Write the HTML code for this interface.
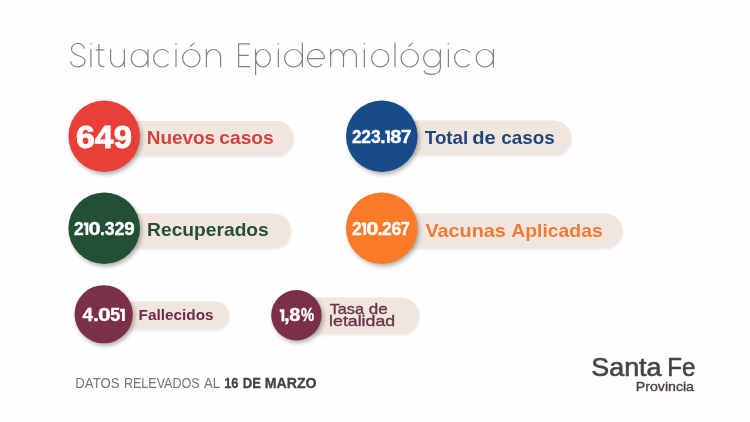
<!DOCTYPE html>
<html><head><meta charset="utf-8">
<style>
html,body{margin:0;padding:0;}
body{width:750px;height:422px;background:#fefefe;overflow:hidden;position:relative;font-family:"Liberation Sans",sans-serif;}
svg{position:absolute;left:0;top:0;filter:blur(0.35px);}
text{font-family:"Liberation Sans",sans-serif;}
</style></head><body>
<svg width="750" height="422" viewBox="0 0 750 422">
<defs><filter id="sh" x="-20%" y="-20%" width="150%" height="150%"><feGaussianBlur stdDeviation="2"/></filter>
<filter id="ps" x="-5%" y="-20%" width="110%" height="160%"><feGaussianBlur stdDeviation="1"/></filter></defs>
<rect x="104.50" y="122.60" width="189.40" height="34.60" rx="17.30" fill="#6b5a50" opacity="0.12" filter="url(#ps)"/>
<rect x="104.00" y="121.00" width="189.40" height="34.60" rx="17.30" fill="#f0e6de"/>
<rect x="382.50" y="122.20" width="189.20" height="34.40" rx="17.20" fill="#6b5a50" opacity="0.12" filter="url(#ps)"/>
<rect x="382.00" y="120.60" width="189.20" height="34.40" rx="17.20" fill="#f0e6de"/>
<rect x="104.50" y="215.10" width="187.00" height="34.50" rx="17.25" fill="#6b5a50" opacity="0.12" filter="url(#ps)"/>
<rect x="104.00" y="213.50" width="187.00" height="34.50" rx="17.25" fill="#f0e6de"/>
<rect x="382.50" y="215.10" width="240.40" height="34.50" rx="17.25" fill="#6b5a50" opacity="0.12" filter="url(#ps)"/>
<rect x="382.00" y="213.50" width="240.40" height="34.50" rx="17.25" fill="#f0e6de"/>
<rect x="103.50" y="303.20" width="126.20" height="27.40" rx="13.70" fill="#6b5a50" opacity="0.12" filter="url(#ps)"/>
<rect x="103.00" y="301.60" width="126.20" height="27.40" rx="13.70" fill="#f0e6de"/>
<rect x="296.50" y="299.00" width="123.20" height="36.60" rx="18.30" fill="#6b5a50" opacity="0.12" filter="url(#ps)"/>
<rect x="296.00" y="297.40" width="123.20" height="36.60" rx="18.30" fill="#f0e6de"/>
<circle cx="106.00" cy="138.80" r="35.80" fill="#000" opacity="0.3" filter="url(#sh)"/>
<circle cx="104.20" cy="136.30" r="35.80" fill="#e93f36"/>
<circle cx="383.60" cy="138.80" r="35.80" fill="#000" opacity="0.3" filter="url(#sh)"/>
<circle cx="381.80" cy="136.30" r="35.80" fill="#174b8a"/>
<circle cx="106.00" cy="230.80" r="35.80" fill="#000" opacity="0.3" filter="url(#sh)"/>
<circle cx="104.20" cy="228.30" r="35.80" fill="#234f35"/>
<circle cx="383.60" cy="230.80" r="35.80" fill="#000" opacity="0.3" filter="url(#sh)"/>
<circle cx="381.80" cy="228.30" r="35.80" fill="#fa7a27"/>
<circle cx="105.45" cy="316.75" r="29.10" fill="#000" opacity="0.3" filter="url(#sh)"/>
<circle cx="103.65" cy="314.25" r="29.10" fill="#7b2f4b"/>
<circle cx="298.20" cy="317.70" r="25.20" fill="#000" opacity="0.3" filter="url(#sh)"/>
<circle cx="296.40" cy="315.20" r="25.20" fill="#7b2f4b"/>
<path fill="none" stroke="#828282" stroke-width="1.20" d="M84.30 48.70 C83.80 45.30 80.97 43.50 77.80 43.50 C74.20 43.50 71.50 45.90 71.50 49.10 C71.50 52.50 74.63 54.40 78.09 55.50 C82.12 56.70 85.00 58.20 85.00 61.10 C85.00 64.60 81.83 66.90 77.80 66.90 C73.77 66.90 70.80 64.70 70.60 61.30 M90.90 49.20 V67.30 M90.65 43.60 a0.25 0.25 0 1 0 0.5 0 a0.25 0.25 0 1 0 -0.5 0 M98.90 44.00 V63.10 Q98.90 66.70 104.40 66.70 M95.80 49.80 H104.40 M110.60 49.20 V59.75 A6.90 7.25 0 0 0 124.40 59.75 M124.40 49.20 V67.30 M131.20 58.25 a8.40 8.75 0 1 0 16.80 0 a8.40 8.75 0 1 0 -16.80 0 M148.00 49.20 V67.30 M168.61 52.63 A8.50 8.75 0 1 0 168.61 63.87 M176.00 49.20 V67.30 M175.75 43.60 a0.25 0.25 0 1 0 0.5 0 a0.25 0.25 0 1 0 -0.5 0 M182.60 58.25 a8.70 8.75 0 1 0 17.40 0 a8.70 8.75 0 1 0 -17.40 0 M190.10 46.60 L194.50 42.60 M206.40 49.20 V67.30 M206.40 56.95 A7.10 7.45 0 0 1 220.60 56.95 V67.30 M250.00 43.90 H238.60 V66.70 H250.00 M238.60 55.30 H248.70 M255.60 58.25 a7.40 8.75 0 1 0 14.80 0 a7.40 8.75 0 1 0 -14.80 0 M255.60 49.20 V75.00 M278.40 49.20 V67.30 M278.15 43.60 a0.25 0.25 0 1 0 0.5 0 a0.25 0.25 0 1 0 -0.5 0 M284.60 58.25 a8.90 8.75 0 1 0 17.80 0 a8.90 8.75 0 1 0 -17.80 0 M302.40 42.40 V67.30 M307.60 58.55 H324.40 M324.40 58.55 A8.40 8.75 0 1 0 322.24 64.10 M330.60 49.20 V67.30 M330.60 56.59 A6.45 7.09 0 0 1 343.50 56.59 V67.30 M343.50 56.59 A6.45 7.09 0 0 1 356.40 56.59 V67.30 M364.40 49.20 V67.30 M364.15 43.60 a0.25 0.25 0 1 0 0.5 0 a0.25 0.25 0 1 0 -0.5 0 M371.60 58.25 a8.60 8.75 0 1 0 17.20 0 a8.60 8.75 0 1 0 -17.20 0 M395.00 42.40 V67.30 M401.00 58.25 a8.70 8.75 0 1 0 17.40 0 a8.70 8.75 0 1 0 -17.40 0 M408.50 46.60 L412.90 42.60 M423.60 58.25 a8.40 8.75 0 1 0 16.80 0 a8.40 8.75 0 1 0 -16.80 0 M440.40 49.20 V67.50 C440.40 72.00 436.62 74.40 432.00 74.40 C427.38 74.40 424.60 73.20 424.20 70.60 M448.40 49.20 V67.30 M448.15 43.60 a0.25 0.25 0 1 0 0.5 0 a0.25 0.25 0 1 0 -0.5 0 M469.61 52.63 A8.50 8.75 0 1 0 469.61 63.87 M476.20 58.25 a8.60 8.75 0 1 0 17.20 0 a8.60 8.75 0 1 0 -17.20 0 M493.40 49.20 V67.30"/>
<g fill="#fff" font-weight="bold" stroke="#fff" stroke-width="0.35">
<g font-size="32" stroke-width="0.9"><text transform="translate(76.06 147.90) scale(1.060 1)">6</text>
<text transform="translate(94.79 147.90) scale(1.044 1)">4</text>
<text transform="translate(113.66 147.90) scale(1.026 1)">9</text></g>
<g font-size="17.9"><text transform="translate(351.91 142.90) scale(0.952 1)">2</text>
<text transform="translate(361.20 142.90) scale(0.975 1)">2</text>
<text transform="translate(371.10 142.90) scale(0.978 1)">3</text>
<text transform="translate(380.20 142.90) scale(1.069 1)">.</text>
<path stroke="none" d="M385.25 130.58 h4.60 v12.32 h-2.85 v-9.36 h-1.75 z"/>
<text transform="translate(390.16 142.90) scale(1.120 1)">8</text>
<text transform="translate(400.99 142.90) scale(1.060 1)">7</text></g>
<g font-size="17.9"><text transform="translate(73.90 234.90) scale(0.975 1)">2</text>
<path stroke="none" d="M83.75 222.58 h4.60 v12.32 h-2.85 v-9.36 h-1.75 z"/>
<text transform="translate(88.44 234.90) scale(1.222 1)">0</text>
<text transform="translate(99.95 234.90) scale(0.950 1)">.</text>
<text transform="translate(104.69 234.90) scale(0.989 1)">3</text>
<text transform="translate(114.48 234.90) scale(0.998 1)">2</text>
<text transform="translate(124.15 234.90) scale(1.050 1)">9</text></g>
<g font-size="17.9"><text transform="translate(351.90 234.90) scale(0.975 1)">2</text>
<path stroke="none" d="M361.75 222.58 h4.30 v12.32 h-2.67 v-9.36 h-1.63 z"/>
<text transform="translate(366.24 234.90) scale(1.222 1)">0</text>
<text transform="translate(377.65 234.90) scale(0.950 1)">.</text>
<text transform="translate(381.90 234.90) scale(0.975 1)">2</text>
<text transform="translate(391.45 234.90) scale(0.994 1)">6</text>
<text transform="translate(400.58 234.90) scale(0.941 1)">7</text></g>
<g font-size="17.5"><text transform="translate(82.51 320.90) scale(1.077 1)">4</text>
<text transform="translate(92.91 320.90) scale(1.174 1)">.</text>
<text transform="translate(97.89 320.90) scale(1.310 1)">0</text>
<text transform="translate(110.25 320.90) scale(1.022 1)">5</text>
<path stroke="none" d="M120.25 308.86 h4.60 v12.04 h-2.85 v-9.15 h-1.75 z"/></g>
<g font-size="17.5"><path stroke="none" d="M279.75 309.36 h4.60 v12.04 h-2.85 v-9.15 h-1.75 z"/>
<text transform="translate(283.92 321.40) scale(1.158 1)">,</text>
<text transform="translate(289.16 321.40) scale(1.146 1)">8</text>
<text transform="translate(300.93 321.40) scale(0.846 1)">%</text></g>
</g>
<g font-weight="bold">
<g font-size="17.7" fill="#d4423f"><text x="146.73" y="144.40" textLength="68.44" lengthAdjust="spacingAndGlyphs">Nuevos</text>
<text x="219.25" y="144.40" textLength="54.54" lengthAdjust="spacingAndGlyphs">casos</text></g>
<g font-size="17.7" fill="#1f4677"><text x="424.80" y="144.00" textLength="43.49" lengthAdjust="spacingAndGlyphs">Total</text>
<text x="472.17" y="144.00" textLength="23.52" lengthAdjust="spacingAndGlyphs">de</text>
<text x="501.26" y="144.00" textLength="53.51" lengthAdjust="spacingAndGlyphs">casos</text></g>
<g font-size="17.7" fill="#274f38"><text x="147.12" y="236.00" textLength="121.67" lengthAdjust="spacingAndGlyphs">Recuperados</text></g>
<g font-size="17.7" fill="#f07b35"><text x="425.47" y="236.70" textLength="80.23" lengthAdjust="spacingAndGlyphs">Vacunas</text>
<text x="511.22" y="236.70" textLength="91.48" lengthAdjust="spacingAndGlyphs">Aplicadas</text></g>
<g font-size="15" fill="#6f2a47"><text x="138.57" y="320.00" textLength="75.06" lengthAdjust="spacingAndGlyphs">Fallecidos</text></g>
</g>
<g font-size="14.6" fill="#6a3348" stroke="#6a3348" stroke-width="0.35"><text x="329.65" y="313.50" textLength="34.35" lengthAdjust="spacingAndGlyphs">Tasa</text><text x="368.89" y="313.50" textLength="18.87" lengthAdjust="spacingAndGlyphs">de</text><text x="329.11" y="326.20" textLength="66.04" lengthAdjust="spacingAndGlyphs">letalidad</text></g>
<g font-size="14.1" fill="#757575"><text x="75.35" y="387.60" textLength="44.24" lengthAdjust="spacingAndGlyphs">DATOS</text><text x="123.99" y="387.60" textLength="75.58" lengthAdjust="spacingAndGlyphs">RELEVADOS</text><text x="203.97" y="387.60" textLength="16.06" lengthAdjust="spacingAndGlyphs">AL</text></g><g font-size="14.1" font-weight="bold" fill="#444" stroke="#444" stroke-width="0.3"><text x="224.19" y="387.60" textLength="14.27" lengthAdjust="spacingAndGlyphs">16</text><text x="242.72" y="387.60" textLength="18.19" lengthAdjust="spacingAndGlyphs">DE</text><text x="264.65" y="387.60" textLength="51.94" lengthAdjust="spacingAndGlyphs">MARZO</text></g>
<g fill="#4a4344" stroke="#4a4344"><g font-size="25.5" stroke-width="0.6"><text x="591.28" y="376.00" textLength="70.22" lengthAdjust="spacingAndGlyphs">Santa</text><text x="667.32" y="376.00" textLength="28.15" lengthAdjust="spacingAndGlyphs">Fe</text></g><g font-size="12.6" stroke-width="0.35"><text x="635.84" y="391.00" textLength="58.16" lengthAdjust="spacingAndGlyphs">Provincia</text></g></g>
</svg>
</body></html>
